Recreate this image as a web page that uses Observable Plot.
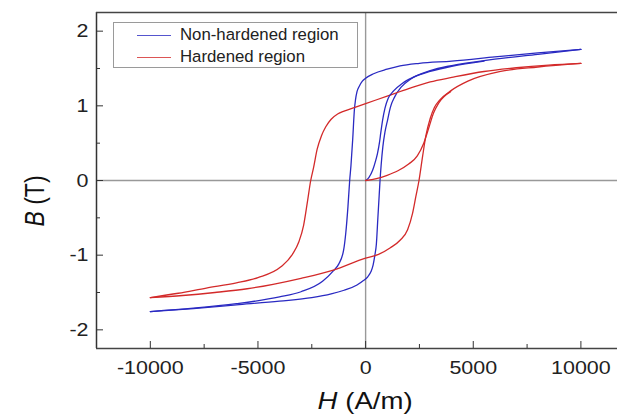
<!DOCTYPE html>
<html><head><meta charset="utf-8">
<script src="https://cdn.jsdelivr.net/npm/d3@7"></script>
<script src="https://cdn.jsdelivr.net/npm/@observablehq/plot@0.6"></script>
<style>
body{margin:0;background:#fff;}
#wrap{position:relative;width:617px;height:414px;overflow:hidden;}
#legend{position:absolute;left:113px;top:22px;width:243px;height:44px;border:1.5px solid #9a9a9a;background:#fff;
  font-family:"Liberation Sans",Arial,sans-serif;font-size:16.8px;color:#222;}
.row{position:absolute;left:0;height:20px;line-height:20px;}
.sw{position:absolute;left:23px;top:10px;width:34px;height:0;border-top:1.6px solid;}
.lab{position:absolute;left:66px;top:0;white-space:nowrap;}
</style>
</head><body>
<div id="wrap"></div>
<script>
// ---- data ----
const seriesNames = ["Non-hardened region", "Hardened region"];
const seriesColors = ["#2a2ac2", "#d32a2a"];

// Non-hardened region (blue)
const blueInitH = [0, 150, 330, 450, 550, 650, 700, 790, 900, 1050, 1300, 1700, 2200, 3000, 4000, 5500];
const blueInitB = [0, 0.04, 0.14, 0.25, 0.36, 0.52, 0.63, 0.81, 0.97, 1.1, 1.2, 1.3, 1.38, 1.46, 1.53, 1.6];
const blueDescH = [10000, 8000, 6000, 4000, 2500, 1600, 1000, 370, 0, -150, -300, -400, -470, -520, -600, -680, -740, -820, -920, -1020, -1250, -1500, -2000, -3000, -4000, -6000, -8000, -10000];
const blueDescB = [1.755, 1.71, 1.655, 1.6, 1.57, 1.535, 1.49, 1.43, 1.37, 1.33, 1.26, 1.19, 1.08, 0.95, 0.55, 0.2, 0, -0.35, -0.7, -0.93, -1.12, -1.21, -1.35, -1.49, -1.56, -1.65, -1.71, -1.755];
const blueAscH = [-10000, -8000, -6000, -4000, -2500, -1600, -1000, -400, -100, 100, 250, 350, 430, 500, 570, 630, 670, 720, 800, 900, 1020, 1150, 1350, 1650, 2100, 3000, 4000, 6000, 8000, 10000];
const blueAscB = [-1.755, -1.715, -1.665, -1.615, -1.57, -1.52, -1.47, -1.4, -1.34, -1.29, -1.22, -1.13, -1.0, -0.85, -0.5, -0.2, 0, 0.2, 0.45, 0.65, 0.81, 0.98, 1.12, 1.25, 1.36, 1.47, 1.54, 1.625, 1.69, 1.755];

// Hardened region (red)
const redInitH = [0, 500, 1000, 1500, 2000, 2400, 2700, 2950, 3150, 3400, 3950];
const redInitB = [0, 0.025, 0.07, 0.13, 0.22, 0.33, 0.5, 0.72, 0.9, 1.04, 1.19];
const redDescH = [10000, 8500, 7000, 5500, 4000, 3000, 2000, 1000, 0, -500, -1000, -1300, -1600, -1850, -2050, -2250, -2420, -2550, -2700, -2880, -3100, -3400, -3950, -5000, -6000, -7400, -8700, -10000];
const redDescB = [1.568, 1.545, 1.51, 1.46, 1.38, 1.32, 1.23, 1.13, 1.03, 0.98, 0.93, 0.89, 0.82, 0.72, 0.6, 0.42, 0.17, 0, -0.28, -0.6, -0.82, -0.99, -1.16, -1.3, -1.37, -1.44, -1.51, -1.568];
const redAscH = [-10000, -8500, -7000, -5500, -4300, -3000, -1500, 0, 600, 1150, 1600, 1950, 2180, 2330, 2480, 2650, 2800, 3000, 3200, 3450, 3950, 4750, 6270, 8000, 10000];
const redAscB = [-1.568, -1.54, -1.5, -1.45, -1.39, -1.31, -1.2, -1.04, -0.99, -0.9, -0.8, -0.66, -0.44, -0.22, 0, 0.33, 0.6, 0.83, 0.98, 1.08, 1.2, 1.33, 1.46, 1.52, 1.568];

const xDomain = [-12500, 11700];
const yDomain = [-2.25, 2.25];
const xTicks = [-10000, -5000, 0, 5000, 10000];
const xMinor = [-7500, -2500, 2500, 7500];
const yTicks = [-2, -1, 0, 1, 2];
const yMinor = [-1.5, -0.5, 0.5, 1.5];
const xTitle = ["H", " (A/m)"];
const yTitle = ["B", " (T)"];

// ---- build table ----
const rows = [];
function add(series, branch, H, B) {
  H.forEach((h, i) => rows.push({series, key: series + "-" + branch, H: h, B: B[i]}));
}
add(seriesNames[0], "init", blueInitH, blueInitB);
add(seriesNames[0], "desc", blueDescH, blueDescB);
add(seriesNames[0], "asc", blueAscH, blueAscB);
add(seriesNames[1], "init", redInitH, redInitB);
add(seriesNames[1], "desc", redDescH, redDescB);
add(seriesNames[1], "asc", redAscH, redAscB);

const fmt = d => String(d);
const plot = Plot.plot({
  width: 617, height: 414,
  marginLeft: 96, marginRight: 0, marginTop: 12, marginBottom: 66,
  style: {fontFamily: "'Liberation Sans', Arial, sans-serif", fontSize: "19px", color: "#222", background: "#fff"},
  x: {domain: xDomain},
  y: {domain: yDomain},
  color: {domain: seriesNames, range: seriesColors},
  marks: [
    Plot.ruleY([0], {stroke: "#999", strokeWidth: 1.4}),
    Plot.ruleX([0], {stroke: "#999", strokeWidth: 1.4}),
    Plot.line(rows, {x: "H", y: "B", z: "key", stroke: "series", sort: "H", curve: "monotone-x", strokeWidth: 1.3}),
    Plot.ruleX([xDomain[0]], {stroke: "#333", strokeWidth: 1.5}),
    Plot.ruleY(yDomain, {stroke: "#444", strokeWidth: 1.5}),
    Plot.axisX(xTicks, {tickSize: -7, tickPadding: 19, label: null, tickFormat: fmt, stroke: "#333", fill: "#222", fontSize: 19}),
    Plot.axisX(xMinor, {tickSize: -4, fill: "none", label: null, stroke: "#333"}),
    Plot.axisY(yTicks, {tickSize: -7, tickPadding: 15, label: null, tickFormat: fmt, stroke: "#333", fill: "#222", fontSize: 19}),
    Plot.axisY(yMinor, {tickSize: -4, fill: "none", label: null, stroke: "#333"})
  ]
});
const wrap = document.getElementById("wrap");
wrap.appendChild(plot);

const svg = d3.select(plot);
const xs = plot.scale("x").apply;
// axis titles
const xt = svg.append("text").attr("class", "axt").attr("x", xs(0)).attr("y", 409)
  .attr("text-anchor", "middle").attr("font-size", 23).attr("fill", "#111");
xt.append("tspan").attr("font-style", "italic").text(xTitle[0]);
xt.append("tspan").text(xTitle[1]);
const yt = svg.append("text").attr("class", "axt").attr("transform", "translate(42,201) rotate(-90)")
  .attr("text-anchor", "middle").attr("font-size", 23).attr("fill", "#111");
yt.append("tspan").attr("font-style", "italic").text(yTitle[0]);
yt.append("tspan").text(yTitle[1]);

// horizontal stretch of texts to match the reference's wide lettering
function stretchH(el, s) {
  const b = el.getBBox();
  const a = getComputedStyle(el).textAnchor;
  const ox = a === "end" ? b.x + b.width : a === "start" ? b.x : b.x + b.width / 2;
  const prev = el.getAttribute("transform") || "";
  el.setAttribute("transform", `${prev} translate(${ox},0) scale(${s},1) translate(${-ox},0)`);
}
function stretchRot(el, s) {
  const b = el.getBBox();
  const oy = b.y + b.height / 2;
  const prev = el.getAttribute("transform") || "";
  el.setAttribute("transform", `${prev} translate(0,${oy}) scale(1,${s}) translate(0,${-oy})`);
}
plot.querySelectorAll("g[aria-label$='tick label'] text").forEach(t => stretchH(t, 1.13));
stretchH(xt.node(), 1.2);
stretchRot(yt.node(), 1.2);

// legend
const leg = document.createElement("div");
leg.id = "legend";
seriesNames.forEach((name, i) => {
  const r = document.createElement("div");
  r.className = "row";
  r.style.top = (2 + i * 22.4) + "px";
  r.style.width = "100%";
  const sw = document.createElement("div");
  sw.className = "sw";
  sw.style.borderTopColor = seriesColors[i];
  sw.style.opacity = 0.8;
  const lb = document.createElement("div");
  lb.className = "lab";
  lb.textContent = name;
  r.appendChild(sw); r.appendChild(lb);
  leg.appendChild(r);
});
wrap.appendChild(leg);
</script>
</body></html>
